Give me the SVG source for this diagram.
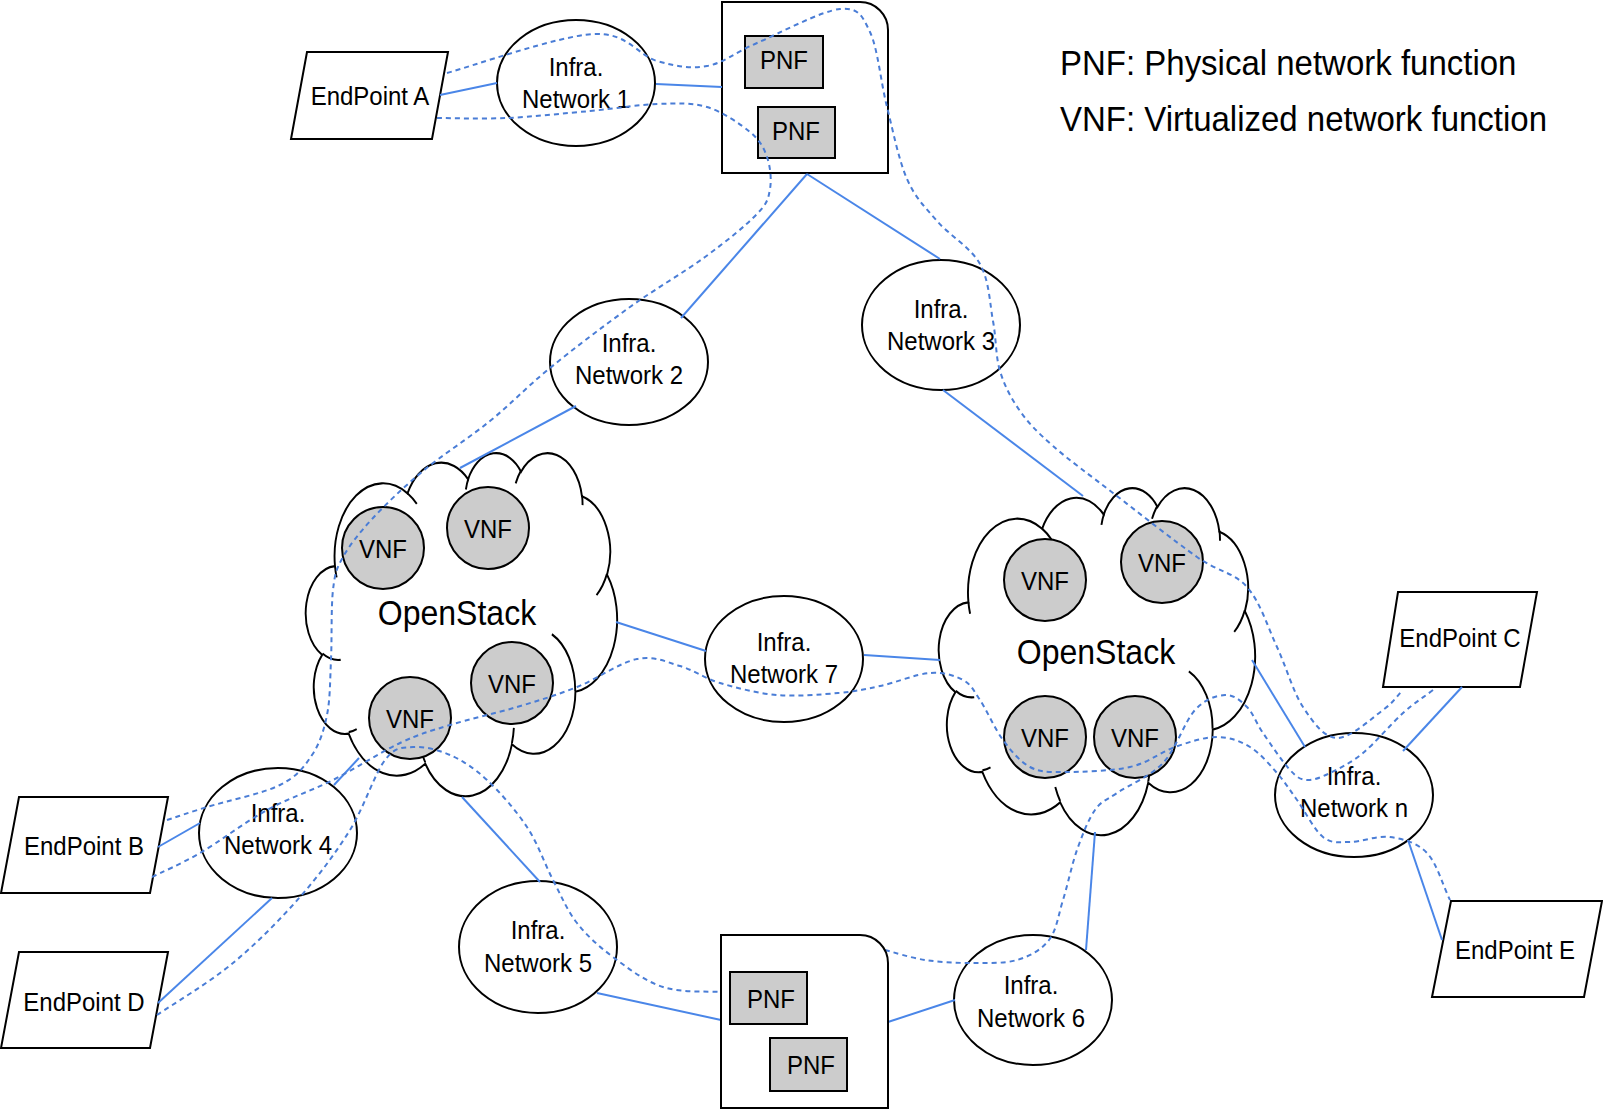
<svg xmlns="http://www.w3.org/2000/svg" xmlns:xlink="http://www.w3.org/1999/xlink" width="1603" height="1109" viewBox="0 0 1603 1109">
<style>
.shape{fill:#fff;stroke:#000;stroke-width:2}
.fn{fill:#cccccc;stroke:#000;stroke-width:2}
.cloudline{fill:#fff;stroke:#000;stroke-width:265}
.hook{fill:none}
text{font-family:"Liberation Sans",Arial,sans-serif;fill:#000;transform-box:fill-box;transform-origin:center;transform:scaleY(1.09)}
.lbl{font-size:24px;text-anchor:middle}
.big{font-size:32px;text-anchor:middle}
.legend{font-size:33px}
.link{stroke:#4a86e8;stroke-width:2;fill:none}
.flow{stroke:#4a7dd6;stroke-width:2;fill:none;stroke-dasharray:5 4}
</style>
<defs>
<path id="cloudOutline" d="M3900,14370 A6753,9190 0 0 1 14005,5202 A5333,7267 0 0 1 22456,3432 A4365,5945 0 0 1 29833,2481 A4857,6595 0 0 1 38318,5576 A5333,7273 0 0 1 41818,15460 A6775,9220 0 0 1 37405,30203 A5785,7867 0 0 1 28556,36813 A6752,9215 0 0 1 16481,39264 A7720,10543 0 0 1 5805,35470 A4360,5918 0 0 1 2114,25548 A4345,5945 0 0 1 3900,14370 Z"/>
<path id="cloudHooks" d="M4693,26177 A4345,5945 0 0 1 2160,25380 M6928,34899 A4360,5918 0 0 1 5820,35280 M16478,39090 A6752,9215 0 0 1 15810,37350 M28827,34751 A6752,9215 0 0 1 28560,36660 M34129,22954 A5785,7867 0 0 1 37380,30090 M41798,15354 A5333,7273 0 0 1 40350,18030 M38324,5426 A4857,6595 0 0 1 38400,6690 M29078,3952 A4857,6595 0 0 1 29820,2340 M22141,4720 A4365,5945 0 0 1 22500,3330 M14000,5192 A6753,9190 0 0 1 15300,6540 M4127,15789 A6753,9190 0 0 1 3900,14370"/>
</defs>
<rect width="1603" height="1109" fill="#fff"/>

<g id="legend">
<text class="legend" x="1060" y="74">PNF: Physical network function</text>
<text class="legend" x="1060" y="130">VNF: Virtualized network function</text>
</g>

<g id="endpoint-a"><polygon class="shape" points="307,52 448,52 432,139 291,139"/><text class="lbl" x="370" y="104">EndPoint A</text></g>
<g id="endpoint-b"><polygon class="shape" points="19,797 168,797 150,893 1,893"/><text class="lbl" x="84" y="854">EndPoint B</text></g>
<g id="endpoint-d"><polygon class="shape" points="19,952 168,952 150,1048 1,1048"/><text class="lbl" x="84" y="1010">EndPoint D</text></g>
<g id="endpoint-c"><polygon class="shape" points="1398,592 1537,592 1520,687 1383,687"/><text class="lbl" x="1460" y="646">EndPoint C</text></g>
<g id="endpoint-e"><polygon class="shape" points="1451,901 1602,901 1584,997 1432,997"/><text class="lbl" x="1515" y="958">EndPoint E</text></g>

<g id="infra-1"><ellipse class="shape" cx="576" cy="83" rx="79" ry="63"/><text class="lbl"><tspan x="576" y="77">Infra.</tspan><tspan x="576" y="106">Network 1</tspan></text></g>
<g id="infra-2"><ellipse class="shape" cx="629" cy="362" rx="79" ry="63"/><text class="lbl"><tspan x="629" y="353">Infra.</tspan><tspan x="629" y="382">Network 2</tspan></text></g>
<g id="infra-3"><ellipse class="shape" cx="941" cy="325" rx="79" ry="65"/><text class="lbl"><tspan x="941" y="319">Infra.</tspan><tspan x="941" y="348">Network 3</tspan></text></g>
<g id="infra-4"><ellipse class="shape" cx="278" cy="833" rx="79" ry="65"/><text class="lbl"><tspan x="278" y="823">Infra.</tspan><tspan x="278" y="852">Network 4</tspan></text></g>
<g id="infra-5"><ellipse class="shape" cx="538" cy="947" rx="79" ry="66"/><text class="lbl"><tspan x="538" y="940">Infra.</tspan><tspan x="538" y="970">Network 5</tspan></text></g>
<g id="infra-6"><ellipse class="shape" cx="1033" cy="1000" rx="79" ry="65"/><text class="lbl"><tspan x="1031" y="995">Infra.</tspan><tspan x="1031" y="1025">Network 6</tspan></text></g>
<g id="infra-7"><ellipse class="shape" cx="784" cy="659" rx="79" ry="63"/><text class="lbl"><tspan x="784" y="652">Infra.</tspan><tspan x="784" y="681">Network 7</tspan></text></g>
<g id="infra-n"><ellipse class="shape" cx="1354" cy="795" rx="79" ry="62"/><text class="lbl"><tspan x="1354" y="786">Infra.</tspan><tspan x="1354" y="815">Network n</tspan></text></g>

<g id="pnf-site-top">
<path class="shape" d="M722,2 H860 A28,28 0 0 1 888,30 V173 H722 Z"/>
<rect class="fn" x="745" y="36" width="78" height="52"/><text class="lbl" x="784" y="68">PNF</text>
<rect class="fn" x="758" y="107" width="77" height="51"/><text class="lbl" x="796" y="139">PNF</text>
</g>

<g id="openstack-left">
<g class="cloudline" transform="translate(307,452) scale(0.0071759,0.0079398)"><use xlink:href="#cloudOutline"/><use class="hook" xlink:href="#cloudHooks"/></g>
<text class="big" x="457" y="624">OpenStack</text>
<circle class="fn" cx="383" cy="548" r="41"/><text class="lbl" x="383" y="557">VNF</text>
<circle class="fn" cx="488" cy="528" r="41"/><text class="lbl" x="488" y="537">VNF</text>
<circle class="fn" cx="512" cy="683" r="41"/><text class="lbl" x="512" y="692">VNF</text>
<circle class="fn" cx="410" cy="718" r="41"/><text class="lbl" x="410" y="727">VNF</text>
</g>

<g id="openstack-right">
<g class="cloudline" transform="translate(940,487) scale(0.0072917,0.0080324)"><use xlink:href="#cloudOutline"/><use class="hook" xlink:href="#cloudHooks"/></g>
<text class="big" x="1096" y="663">OpenStack</text>
<circle class="fn" cx="1045" cy="580" r="41"/><text class="lbl" x="1045" y="589">VNF</text>
<circle class="fn" cx="1162" cy="562" r="41"/><text class="lbl" x="1162" y="571">VNF</text>
<circle class="fn" cx="1045" cy="737" r="41"/><text class="lbl" x="1045" y="746">VNF</text>
<circle class="fn" cx="1135" cy="737" r="41"/><text class="lbl" x="1135" y="746">VNF</text>
</g>

<g id="connectors">
<line class="link" x1="440" y1="95" x2="497" y2="83"/>
<line class="link" x1="656" y1="84" x2="722" y2="87"/>
<line class="link" x1="807" y1="174" x2="681" y2="318"/>
<line class="link" x1="807" y1="174" x2="940" y2="259"/>
<line class="link" x1="576" y1="406" x2="460" y2="468"/>
<line class="link" x1="943" y1="390" x2="1083" y2="496"/>
<line class="link" x1="616" y1="622" x2="706" y2="651"/>
<line class="link" x1="864" y1="655" x2="940" y2="660"/>
<line class="link" x1="1252" y1="660" x2="1305" y2="747"/>
<line class="link" x1="1403" y1="751" x2="1462" y2="687"/>
<line class="link" x1="1408" y1="840" x2="1442" y2="940"/>
<line class="link" x1="158" y1="847" x2="200" y2="823"/>
<line class="link" x1="334" y1="785" x2="359" y2="758"/>
<line class="link" x1="272" y1="898" x2="158" y2="1003"/>
<line class="link" x1="462" y1="797" x2="540" y2="882"/>
<line class="link" x1="597" y1="993" x2="721" y2="1020"/>
<line class="link" x1="888" y1="1022" x2="955" y2="1000"/>
<line class="link" x1="1086" y1="950" x2="1095" y2="832"/>

<path class="flow" d="M447,73 C471,66.5 558,36 593,34 S638,55.7 657,61 S690.3,69 707,66 S734.8,52.5 757,43 S821.2,10.8 840,9 S862.2,15.7 870,32 S880.8,82.5 887,107 S898.7,160 907,179 S924.8,206.8 937,221 S970.7,247.3 980,264 S989.7,303.2 993,321 S995.5,356 1000,371 S1011.2,398.5 1020,411 S1037.5,432.3 1053,446 S1089,474.5 1113,493 S1174.7,541.3 1197,557 S1233.7,572 1247,587 S1267.7,627 1277,647 S1293,691.8 1303,707 S1323.7,737.5 1337,738 S1372,718 1383,710 S1396.3,696.7 1403,690"/>
<path class="flow" d="M437,118 C448.7,118 481.5,119.2 507,118 S565,113.3 590,111 S637.5,104.7 657,104 S691.5,102.3 707,107 S740,123.7 750,132 S763.7,147.5 767,157 S771.7,179.5 770,189 S767.8,202.7 757,214 S726.2,241.5 705,257 S655.8,288.5 630,307 S573.3,349 550,368 S511.2,403.8 490,421 S442.5,454.8 423,471 S386.3,503.7 373,518 S349.7,545 343,557 S335,572.8 333,590 S332,639.2 331,660 S330.2,699.2 327,715 S319.8,743.3 312,755 S297.5,776.3 280,785 S225.8,801.2 207,807 S180.3,815.7 167,820"/>
<path class="flow" d="M152,877 C160,873 180.8,864.2 200,853 S244.8,822.2 267,810 S310.8,791.2 333,780 S380.5,752.2 400,743 S430.5,731 450,725 S495.8,713.3 517,707 S557,695 577,687 S619.8,662.5 637,659 S666.2,662 680,666 S703.8,678.2 720,683 S757.3,693.3 777,695 S820.8,694.5 838,693 S864.7,689.3 880,686 S916.2,674 930,673 S954.7,675.5 963,680 S973.3,690 980,700 S994.7,728.8 1003,740 S1020,761.7 1030,767 S1046.3,772 1063,772 S1111.3,771.2 1130,767 S1160.5,752 1175,747 S1204.5,737 1217,737 S1240,741 1250,747 S1269.2,764.2 1277,773 S1289.3,789.3 1297,800 S1314.2,830 1323,837 S1338.8,842 1350,842 S1377.2,835.2 1390,837 S1417,842.5 1427,853 S1442.3,884.3 1450,900"/>
<path class="flow" d="M157,1015 C169.7,1006.3 209.2,982.7 233,963 S280.5,919.2 300,897 S335.8,852.8 350,830 S374.5,773.8 385,760 S402.2,747.8 413,747 S437.7,749.5 450,755 S474.2,768 487,780 S516,810.3 527,827 S544.7,864 553,880 S567,910.2 577,923 S598.7,946.3 613,957 S644.3,981 663,987 S704.3,991 721,992"/>
<path class="flow" d="M885,950 C891.7,951.7 910.7,957.8 925,960 S955.7,963 971,963 S1004,963.8 1017,960 S1041.3,950 1049,940 S1058.3,915 1063,900 S1071.7,865 1077,850 S1088.3,819.5 1095,810 S1105.7,800.8 1117,793 S1150,776.8 1163,763 S1184.7,721.3 1195,710 S1216.3,695.5 1225,695 S1240.7,700.7 1247,707 S1255.8,722.5 1263,733 S1282.7,762.2 1290,770 S1300.3,779.5 1307,780 S1320.7,777.5 1330,773 S1350.8,763 1363,753 S1391.3,723.5 1403,713 S1423,697.7 1433,690"/>
</g>

<g id="pnf-site-bottom">
<path class="shape" d="M721,935 H860 A28,28 0 0 1 888,963 V1108 H721 Z"/>
<rect class="fn" x="730" y="972" width="77" height="52"/><text class="lbl" x="771" y="1007">PNF</text>
<rect class="fn" x="770" y="1038" width="77" height="53"/><text class="lbl" x="811" y="1073">PNF</text>
</g>
</svg>
